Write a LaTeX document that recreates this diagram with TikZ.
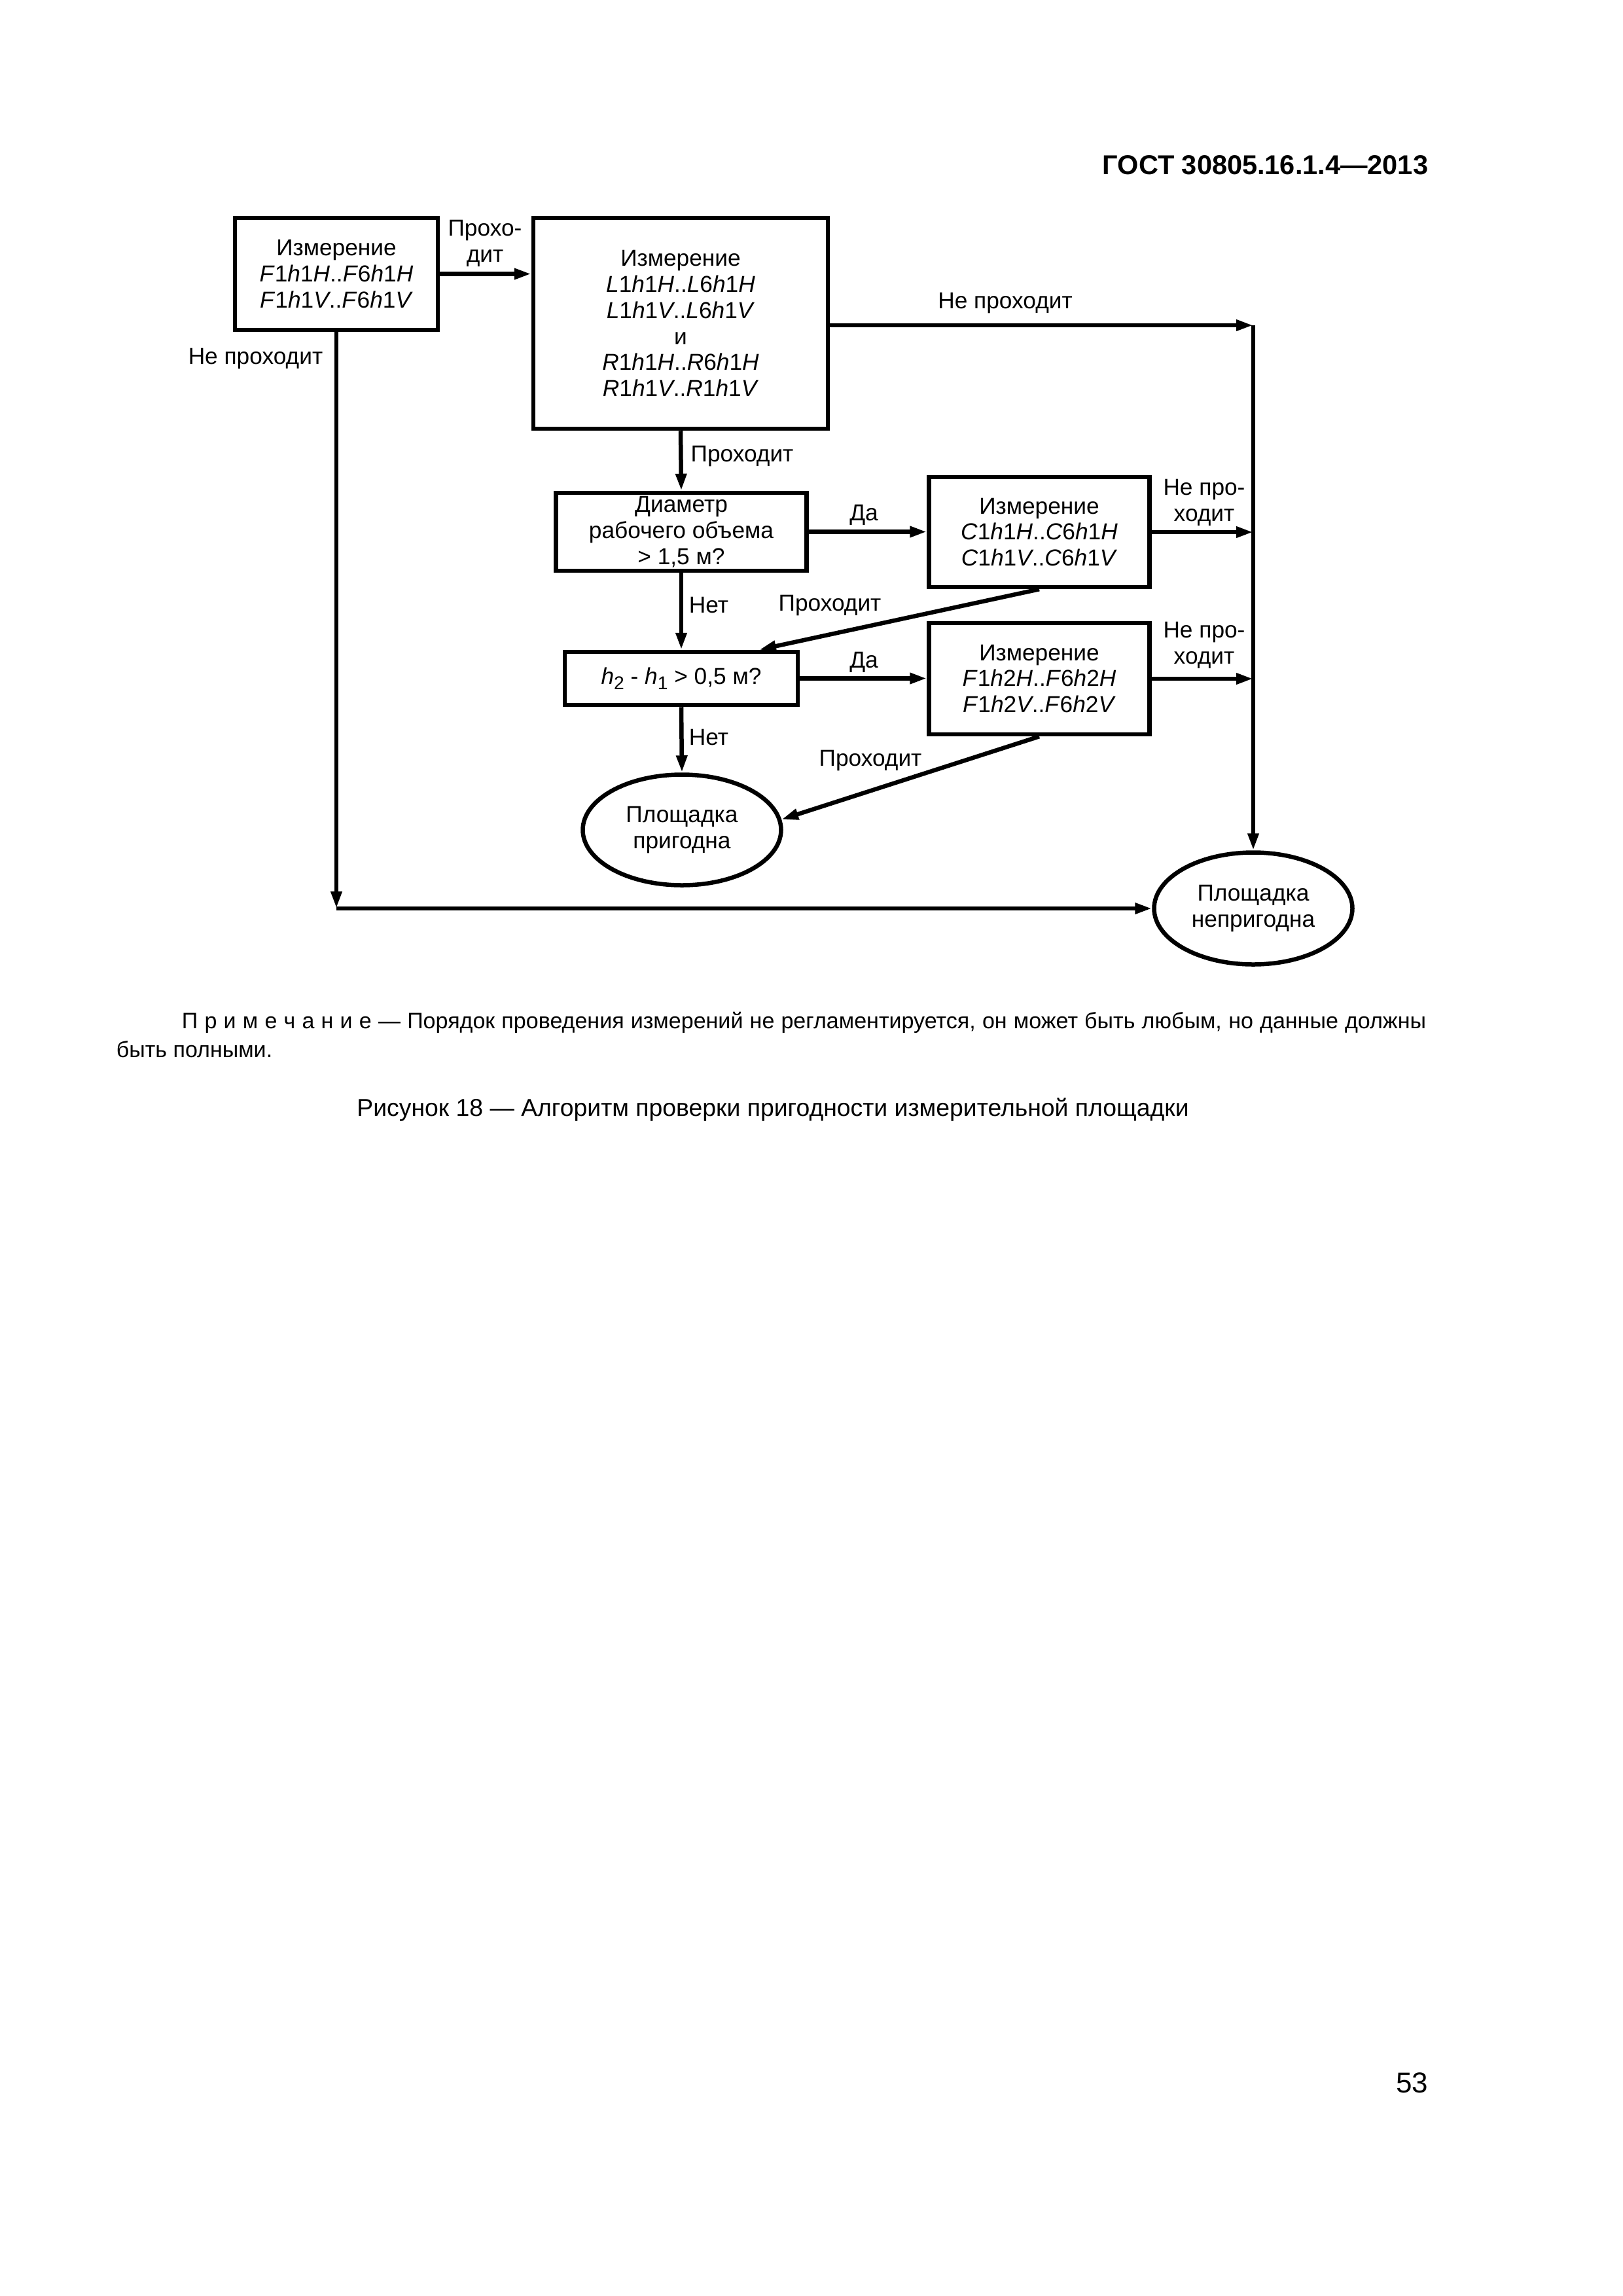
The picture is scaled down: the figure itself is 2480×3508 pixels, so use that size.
\documentclass[tikz,border=0pt]{standalone}
\usepackage{fontspec}
\setmainfont{Liberation Sans}
\usetikzlibrary{arrows.meta,shapes.geometric,calc}
\newdimen\pxu \pxu=0.084677mm
\newcommand\sbs[1]{\raisebox{-0.45ex}{\fontsize{6.8}{7}\selectfont #1}}
\newcommand\ii[1]{\textit{#1}}
\begin{document}
\begin{tikzpicture}[x=0.084677mm,y=-0.084677mm,
  every node/.style={font=\fontsize{8.5}{9.6}\selectfont},
  box/.style={draw, line width=6.5\pxu, inner sep=0pt, align=center},
  oval/.style={draw, ellipse, line width=6.5\pxu, inner sep=0pt, align=center},
  lbl/.style={inner sep=0pt, align=center},
  conn/.style={line width=6.5\pxu, -{Triangle[length=2.2mm,width=1.35mm]}}]

\useasboundingbox (0,0) rectangle (2480,3508);
\fill[white] (0,0) rectangle (2480,3508);

% boxes
\node[box, minimum width=310\pxu, minimum height=171\pxu] (b1) at (514,418.5)
  {Измерение\\ \ii{F}1\ii{h}1\ii{H}..\ii{F}6\ii{h}1\ii{H}\\ \ii{F}1\ii{h}1\ii{V}..\ii{F}6\ii{h}1\ii{V}};
\node[box, minimum width=450\pxu, minimum height=322\pxu] (b2) at (1040,494)
  {Измерение\\ \ii{L}1\ii{h}1\ii{H}..\ii{L}6\ii{h}1\ii{H}\\ \ii{L}1\ii{h}1\ii{V}..\ii{L}6\ii{h}1\ii{V}\\ и\\
   \ii{R}1\ii{h}1\ii{H}..\ii{R}6\ii{h}1\ii{H}\\ \ii{R}1\ii{h}1\ii{V}..\ii{R}1\ii{h}1\ii{V}};
\node[box, minimum width=383\pxu, minimum height=119\pxu] (d) at (1041,812.5)
  {Диаметр\\ рабочего объема\\ > 1,5 м?};
\node[box, minimum width=337\pxu, minimum height=168\pxu] (c) at (1588,813)
  {Измерение\\ \ii{C}1\ii{h}1\ii{H}..\ii{C}6\ii{h}1\ii{H}\\ \ii{C}1\ii{h}1\ii{V}..\ii{C}6\ii{h}1\ii{V}};
\node[box, minimum width=356\pxu, minimum height=81\pxu] (hb) at (1041,1036.5)
  {\ii{h}\sbs{2} - \ii{h}\sbs{1} > 0,5 м?};
\node[box, minimum width=337\pxu, minimum height=170\pxu] (f) at (1588,1037)
  {Измерение\\ \ii{F}1\ii{h}2\ii{H}..\ii{F}6\ii{h}2\ii{H}\\ \ii{F}1\ii{h}2\ii{V}..\ii{F}6\ii{h}2\ii{V}};
\node[oval, minimum width=303\pxu, minimum height=169\pxu] (e1) at (1042,1268)
  {Площадка\\ пригодна};
\node[oval, minimum width=303\pxu, minimum height=171\pxu] (e2) at (1915,1388)
  {Площадка\\ непригодна};

% connectors
\coordinate (r0) at (1915,497);
\coordinate (l1) at (514,1388);
\draw[conn] (b1.east) -- (b2.west |- b1.east);
\draw[conn] (b2.east |- r0) -- (r0);
\draw[conn] (r0) -- (e2.north);
\draw[conn] (b2.south) -- (d.north);
\draw[conn] (d.east) -- (c.west |- d.east);
\draw[conn] (c.east) -- (c.east -| r0);
\draw[conn] (d.south) -- (hb.north);
\draw[conn] (c.south) -- ($(hb.north)+(119,0)$);
\draw[conn] (hb.east) -- (f.west |- hb.east);
\draw[conn] (f.east) -- (f.east -| r0);
\draw[conn] (hb.south) -- (e1.north);
\draw[conn] (f.south) -- (e1.6);
\draw[conn] (b1.south) -- (l1);
\draw[conn] (l1) -- (e2.west);

% labels
\node[lbl] (t1) at (741,372) {Прохо-\\дит};
\node[lbl, anchor=east] (t2) at (494,548) {Не проходит};
\node[lbl] (t3) at (1536,463) {Не проходит};
\node[lbl] (t4) at (1134,697) {Проходит};
\node[lbl] (t5) at (1320,787) {Да};
\node[lbl] (t6) at (1840,768) {Не про-\\ходит};
\node[lbl] (t7) at (1083,925) {Нет};
\node[lbl] (t8) at (1268,925) {Проходит};
\node[lbl] (t9) at (1320,1012) {Да};
\node[lbl] (t10) at (1840,986) {Не про-\\ходит};
\node[lbl] (t11) at (1083,1127) {Нет};
\node[lbl] (t12) at (1330,1162) {Проходит};

% page texts
\node[anchor=base east, inner sep=0pt, font=\fontsize{10}{12}\selectfont\bfseries] (hdr) at (2183,266) {ГОСТ 30805.16.1.4—2013};
\node[anchor=base west, inner sep=0pt, font=\fontsize{8.2}{10}\selectfont] (n1) at (277,1571)
  {\makebox[160.97mm][s]{П\kern.3emр\kern.3emи\kern.3emм\kern.3emе\kern.3emч\kern.3emа\kern.3emн\kern.3emи\kern.3emе — Порядок проведения измерений не регламентируется, он может быть любым, но данные должны}};
\node[anchor=base west, inner sep=0pt, font=\fontsize{8.2}{10}\selectfont] (n2) at (177,1615) {быть полными.};
\node[anchor=base, inner sep=0pt, font=\fontsize{9}{11}\selectfont] (cap) at (1181,1705)
  {Рисунок 18 — Алгоритм проверки пригодности измерительной площадки};
\node[anchor=base east, inner sep=0pt, font=\fontsize{10.6}{12}\selectfont] (pg) at (2183,3197) {53};
\end{tikzpicture}
\end{document}
